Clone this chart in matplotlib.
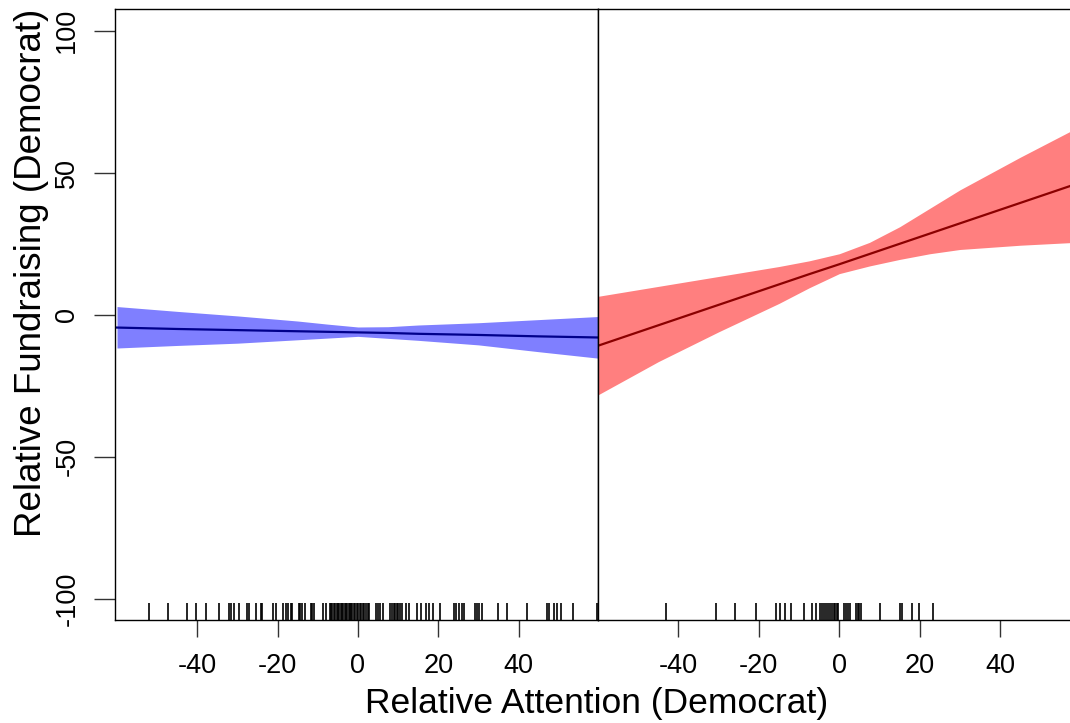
import matplotlib.pyplot as plt
import numpy as np

plt.rcParams['font.family'] = ['Liberation Sans', 'DejaVu Sans']

# band / fit values
band_x = [-60, -45, -30, -15, -7.5, 0, 7.5, 15, 22.5, 30, 45, 60]

blue_fit = [-4.5, -5.0, -5.4, -5.8, -6.0, -6.2, -6.4, -6.7, -6.9, -7.1, -7.6, -8.0]
blue_upper = [2.9, 1.2, -0.4, -2.2, -3.3, -4.3, -4.2, -3.6, -3.2, -2.8, -1.7, -0.6]
blue_lower = [-11.7, -10.8, -10.0, -8.8, -8.2, -7.6, -8.3, -9.0, -9.8, -10.6, -13.0, -15.3]

red_fit = [-10.9, -3.7, 3.5, 10.7, 14.3, 17.8, 21.4, 25.0, 28.6, 32.2, 39.4, 46.6]
red_upper = [6.5, 10.0, 13.5, 17.0, 19.0, 21.5, 25.5, 31.0, 37.5, 44.0, 55.5, 66.5]
red_lower = [-28.2, -16.5, -6.0, 4.0, 9.5, 14.5, 17.2, 19.5, 21.5, 23.0, 24.5, 25.6]

# rug positions (observed relative attention)
rug_left = [-52.0, -47.2, -42.5, -40.3, -37.9, -34.5, -32.0, -31.5, -30.9, -29.6,
            -27.6, -27.1, -25.4, -24.2, -23.9, -21.2, -20.5, -18.6, -17.8, -17.4,
            -16.6, -16.3, -14.6, -14.3, -13.8, -13.3, -11.8, -11.5, -11.0, -8.6,
            -8.0, -7.0, -6.7, -6.4, -6.0, -5.7, -5.3, -5.0, -4.6, -4.3, -4.0, -3.6,
            -3.3, -3.0, -2.7, -2.3, -2.0, -1.7, -1.4, -1.0, -0.7, -0.3, 0.0, 0.4,
            0.8, 1.2, 1.6, 2.0, 2.4, 2.8, 4.5, 5.0, 5.6, 6.3, 8.1, 8.5, 8.9, 9.3,
            9.7, 10.1, 10.5, 10.9, 12.1, 12.8, 14.6, 15.6, 16.9, 17.6, 18.8, 20.4,
            23.9, 24.4, 25.2, 25.9, 26.4, 29.1, 29.6, 30.2, 30.9, 35.0, 37.2, 42.0,
            47.0, 47.7, 48.8, 49.6, 50.5, 53.5, 59.5]
rug_right = [-43.2, -30.6, -25.9, -20.6, -15.8, -14.7, -13.5, -11.9, -8.7, -6.7,
             -5.9, -4.7, -4.2, -3.7, -3.2, -2.7, -2.2, -1.8, -1.4, -1.0, -0.6,
             -0.2, 1.2, 1.6, 2.1, 2.6, 4.2, 4.6, 5.0, 5.4, 10.2, 15.2, 15.6, 18.0,
             19.7, 23.3]

xticks = [-40, -20, 0, 20, 40]
yticks = [-100, -50, 0, 50, 100]

fig = plt.figure(figsize=(10.7, 7.23), dpi=100)
W, H = 1070.0, 723.0
ax1 = fig.add_axes([115 / W, 103 / H, 483 / W, 611 / H])
ax2 = fig.add_axes([598 / W, 103 / H, 483 / W, 611 / H])

ax1.fill_between(band_x, blue_lower, blue_upper, color='#7f7fff', lw=0)
ax1.plot(band_x, blue_fit, color='#00008b', lw=1.6)
ax1.vlines(rug_left, 0, 0.028, transform=ax1.get_xaxis_transform(), color='black', lw=1.2)

ax2.fill_between(band_x, red_lower, red_upper, color='#ff7f7f', lw=0)
ax2.plot(band_x, red_fit, color='#8b0000', lw=1.6)
ax2.vlines(rug_right, 0, 0.028, transform=ax2.get_xaxis_transform(), color='black', lw=1.2)

ax1.set_xlim(-60.5, 59.8)
ax2.set_xlim(-60.0, 60.1)
for ax in (ax1, ax2):
    ax.set_ylim(-107.5, 107.7)
    ax.set_xticks(xticks)
    ax.set_xticklabels([str(t) for t in xticks])
    ax.tick_params(axis='x', length=12, width=1, color='#333333', labelsize=19.5, pad=12)
    for spine in ax.spines.values():
        spine.set_linewidth(1)
        spine.set_color('black')

ax1.set_yticks(yticks)
ax1.set_yticklabels([str(t) for t in yticks], rotation=90, va='center')
ax1.tick_params(axis='y', length=15, width=1, color='#333333', labelsize=19.5, pad=10)
ax2.set_yticks([])

fig.text(32 / W, 1 - 273 / H, 'Relative Fundraising (Democrat)', rotation=90,
         ha='center', va='center', fontsize=26.5)
fig.text(597 / W, 1 - 703 / H, 'Relative Attention (Democrat)',
         ha='center', va='center', fontsize=25.5)

fig.savefig('out.png', dpi=100)
